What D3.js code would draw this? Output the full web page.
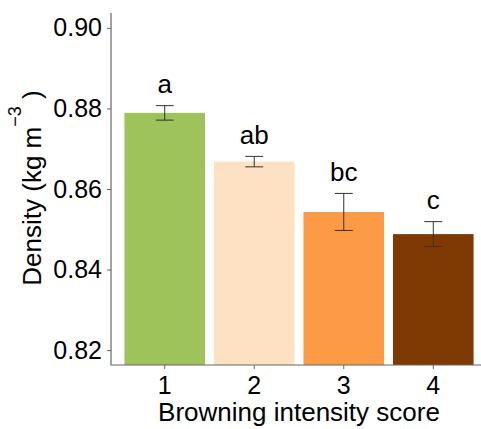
<!DOCTYPE html>
<html>
<head>
<meta charset="utf-8">
<script src="https://cdn.jsdelivr.net/npm/d3@7"></script>
<style>
  body { margin: 0; background: #fff; }
  text { font-family: "Liberation Sans", Arial, sans-serif; fill: #000; }
</style>
</head>
<body>
<div id="chart"></div>
<script>
// bar chart: density by browning intensity score, with SE bars + letters

const scores = ["1", "2", "3", "4"];
const means = [0.8789, 0.8668, 0.8543, 0.8488];
const errors = [0.0018, 0.0013, 0.0046, 0.0031];
const letters = ["a", "ab", "bc", "c"];
const colors = ["#9dc35a", "#fee0c2", "#fd9a45", "#7f3a04"];
const yTicks = [0.82, 0.84, 0.86, 0.88, 0.90];

const data = scores.map((s, i) => ({
  score: s, mean: means[i], se: errors[i], letter: letters[i], color: colors[i]
}));

const W = 481, H = 429;
const plot = {left: 111, right: 487, top: 13, bottom: 365};

const svg = d3.select("#chart")
  .append("svg")
  .attr("width", W)
  .attr("height", H);

const x = d3.scaleBand()
  .domain(scores)
  .range([plot.left, plot.right])
  .paddingInner(0.1)
  .paddingOuter(0.15);

const y = d3.scaleLinear()
  .domain([0.8163, 0.9037])
  .range([plot.bottom, plot.top]);

// bars
svg.selectAll(".bar")
  .data(data)
  .enter()
  .append("rect")
  .attr("class", "bar")
  .attr("x", d => x(d.score))
  .attr("width", x.bandwidth())
  .attr("y", d => y(d.mean))
  .attr("height", d => plot.bottom - y(d.mean))
  .attr("fill", d => d.color);

// error bars
const capW = x.step() * 0.1;
const cx = d => x(d.score) + x.bandwidth() / 2;
const eb = svg.selectAll(".err")
  .data(data)
  .enter()
  .append("g")
  .attr("class", "err")
  .attr("stroke", "#333")
  .attr("stroke-width", 1);

eb.append("line")
  .attr("x1", cx)
  .attr("x2", cx)
  .attr("y1", d => y(d.mean - d.se))
  .attr("y2", d => y(d.mean + d.se));
eb.append("line")
  .attr("x1", d => cx(d) - capW)
  .attr("x2", d => cx(d) + capW)
  .attr("y1", d => y(d.mean + d.se))
  .attr("y2", d => y(d.mean + d.se));
eb.append("line")
  .attr("x1", d => cx(d) - capW)
  .attr("x2", d => cx(d) + capW)
  .attr("y1", d => y(d.mean - d.se))
  .attr("y2", d => y(d.mean - d.se));

// significance letters
svg.selectAll(".letter")
  .data(data)
  .enter()
  .append("text")
  .attr("class", "letter")
  .attr("x", cx)
  .attr("y", d => y(d.mean + d.se) - 12.5)
  .attr("text-anchor", "middle")
  .attr("font-size", "26px")
  .text(d => d.letter);

// axes
const yAxis = svg.append("g")
  .attr("transform", `translate(${plot.left},0)`)
  .call(d3.axisLeft(y).tickValues(yTicks).tickFormat(d3.format(".2f")).tickSize(4).tickPadding(5));

const xAxis = svg.append("g")
  .attr("transform", `translate(0,${plot.bottom})`)
  .call(d3.axisBottom(x).tickSize(4).tickPadding(4));

[yAxis, xAxis].forEach(g => {
  g.select(".domain").remove();
  g.selectAll(".tick line").attr("stroke", "#666");
  g.selectAll(".tick text")
    .attr("font-size", "25px")
    .attr("font-family", "Liberation Sans, Arial, sans-serif")
    .attr("fill", "#000");
});
xAxis.selectAll(".tick text").attr("dy", "0.85em");

// axis lines (L shape)
svg.append("path")
  .attr("d", `M${plot.left},${plot.top}V${plot.bottom}H${plot.right}`)
  .attr("fill", "none")
  .attr("stroke", "#666")
  .attr("stroke-width", 1.2);

// axis titles
svg.append("text")
  .attr("x", (plot.left + plot.right) / 2)
  .attr("y", 421)
  .attr("text-anchor", "middle")
  .attr("font-size", "26px")
  .text("Browning intensity score");

const yt = svg.append("text")
  .attr("transform", `translate(41,${(plot.top + plot.bottom) / 2 - 1}) rotate(-90)`)
  .attr("text-anchor", "middle")
  .attr("font-size", "26px");
yt.append("tspan").text("Density (kg m");
yt.append("tspan").attr("dy", -20).attr("font-size", "18px").text("\u22123");
yt.append("tspan").attr("dy", 20).text(" )");
</script>
</body>
</html>
